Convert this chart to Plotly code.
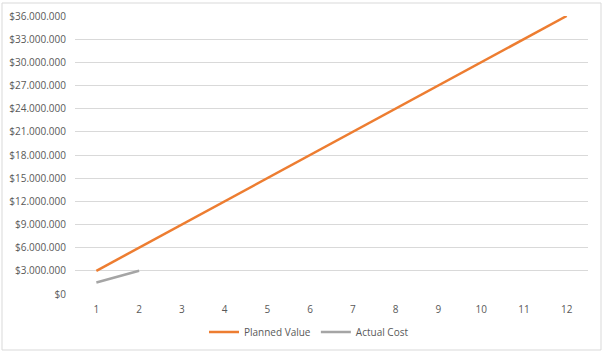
import plotly.graph_objects as go

periods = [1, 2, 3, 4, 5, 6, 7, 8, 9, 10, 11, 12]
planned_value = [3000000, 6000000, 9000000, 12000000, 15000000, 18000000,
                 21000000, 24000000, 27000000, 30000000, 33000000, 36000000]
actual_periods = [1, 2]
actual_cost = [1500000, 3000000]
y_ticks = list(range(0, 36000001, 3000000))
y_labels = ["$0"] + ["${:,}".format(v).replace(",", ".") for v in y_ticks[1:]]

L, R, T, B = 75, 17, 16, 59
W, H = 605, 353
pw, ph = W - L - R, H - T - B

def px(x):
    return (x - L) / pw

def py(y):
    return (H - B - y) / ph

fig = go.Figure()
fig.add_trace(go.Scatter(x=periods, y=planned_value, mode="lines", name="Planned Value",
                         line=dict(color="#ED7D31", width=2.5)))
fig.add_trace(go.Scatter(x=actual_periods, y=actual_cost, mode="lines", name="Actual Cost",
                         line=dict(color="#A5A5A5", width=2.5)))

font = dict(family="Open Sans, Liberation Sans, sans-serif", size=10, color="#595959")
fig.update_layout(
    width=W, height=H,
    margin=dict(l=L, r=R, t=T, b=B, autoexpand=False),
    paper_bgcolor="white", plot_bgcolor="white",
    font=font,
    showlegend=True,
    legend=dict(orientation="h", x=px(309), xanchor="center", y=py(332), yanchor="middle",
                font=dict(size=10, color="#595959"), itemwidth=30,
                bgcolor="rgba(0,0,0,0)"),
    xaxis=dict(range=[0.5, 12.5], tickmode="array", tickvals=periods, automargin=False,
               ticktext=[str(p) for p in periods], showgrid=False, zeroline=False,
               showline=False, ticks="", ticklabelstandoff=8),
    yaxis=dict(range=[0, 36000000], tickmode="array", tickvals=y_ticks, ticktext=y_labels,
               automargin=False,
               showgrid=True, gridcolor="#D9D9D9", gridwidth=1, zeroline=False,
               showline=False, ticks="", ticklabelstandoff=8),
    shapes=[dict(type="rect", xref="paper", yref="paper",
                 x0=px(2), x1=px(601), y0=py(350), y1=py(3),
                 line=dict(color="#D9D9D9", width=1), layer="below")],
)
fig.write_html("out.html")
